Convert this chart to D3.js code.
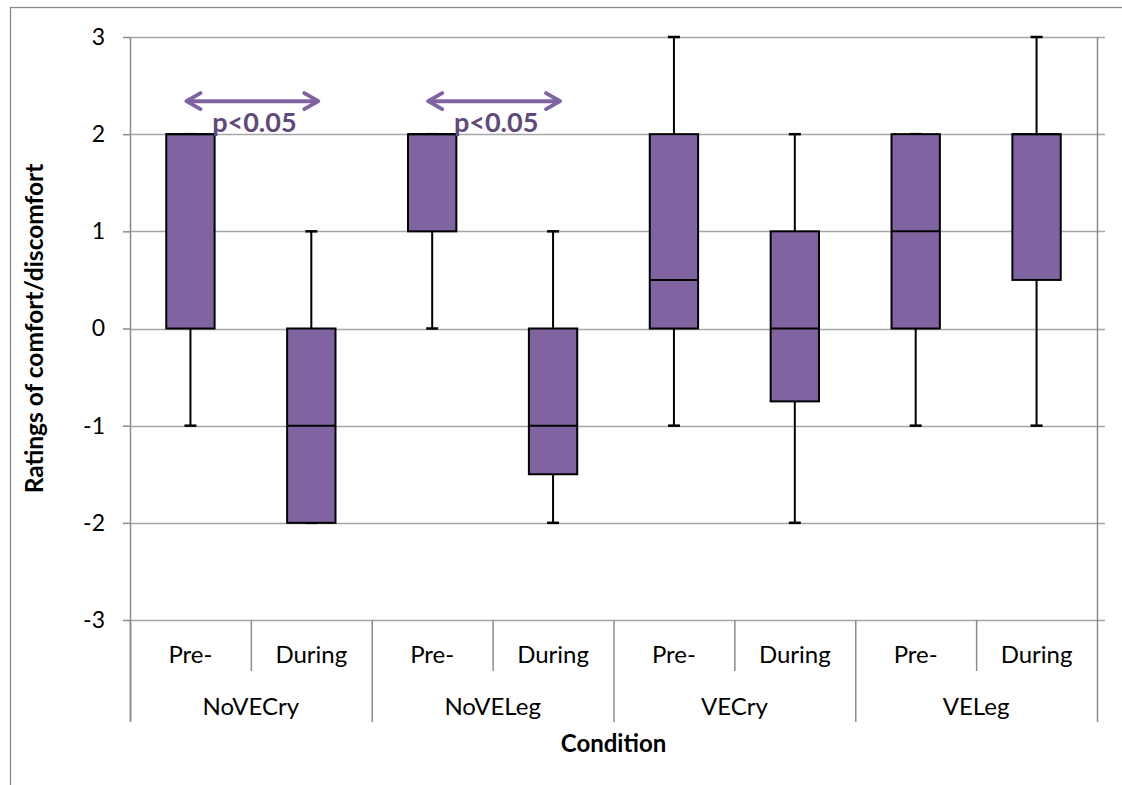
<!DOCTYPE html>
<html>
<head>
<meta charset="utf-8">
<script src="https://cdn.jsdelivr.net/npm/d3@7"></script>
<style>
  body { margin: 0; background: #fff; }
  text { font-family: Lato, "Open Sans", sans-serif; fill: #000; }
</style>
</head>
<body>
<div id="chart"></div>
<script>

// Data
var groups = ["NoVECry", "NoVELeg", "VECry", "VELeg"];
var phases = ["Pre-", "During"];

var whiskerLow  = [-1, -2, 0, -2, -1, -2, -1, -1];
var quartile1   = [0, -2, 1, -1.5, 0, -0.75, 0, 0.5];
var medians     = [2, -1, 2, -1, 0.5, 0, 1, 2];
var quartile3   = [2, 0, 2, 0, 2, 1, 2, 2];
var whiskerHigh = [2, 1, 2, 1, 3, 2, 2, 3];

var yTicks = [-3, -2, -1, 0, 1, 2, 3];
var yTickLabels = ["-3", "-2", "-1", "0", "1", "2", "3"];

// significance annotations: [from box, to box, label]
var sigFrom = [0, 2];
var sigTo = [1, 3];
var sigLabels = ["p<0.05", "p<0.05"];

var width = 1122,
  height = 785;

var margin = {top: 37, right: 25, bottom: 165, left: 130};

var chartW = width - margin.left - margin.right;
var chartH = height - margin.top - margin.bottom;

var boxColor = "#8064a2",
  gridColor = "#a6a6a6",
  axisColor = "#8c8c8c",
  sigColor = "#8064a2",
  sigTextColor = "#604a7b";

// one entry per box
var boxes = [];
groups.forEach(function(g, gi) {
  phases.forEach(function(p, pi) {
    var i = gi * phases.length + pi;
    boxes.push({
      key: g + "|" + p,
      group: g,
      phase: p,
      lo: whiskerLow[i],
      q1: quartile1[i],
      med: medians[i],
      q3: quartile3[i],
      hi: whiskerHigh[i]
    });
  });
});

var xScale = d3.scaleBand()
  .domain(boxes.map(function(d) { return d.key; }))
  .range([0, chartW])
  .padding(0);

var groupScale = d3.scaleBand()
  .domain(groups)
  .range([0, chartW])
  .padding(0);

var yScale = d3.scaleLinear()
  .domain([-3, 3])
  .range([chartH, 0]);

var boxW = xScale.bandwidth() * 0.4;
var capW = 12;

var svg = d3.select("#chart").append("svg")
  .attr("width", width)
  .attr("height", height);

// outer chart frame
svg.append("rect")
  .attr("x", 10.5)
  .attr("y", 7.5)
  .attr("width", width)
  .attr("height", height)
  .attr("fill", "none")
  .attr("stroke", "#898989")
  .attr("stroke-width", 1.3);

var container = svg.append("g")
  .attr("transform", "translate(" + margin.left + "," + margin.top + ")");

// horizontal gridlines (extend a little past the right border)
container.append("g")
  .attr("class", "grid")
  .selectAll("line")
  .data(yTicks)
  .enter().append("line")
  .attr("x1", 0)
  .attr("x2", chartW + 8)
  .attr("y1", function(d) { return Math.round(yScale(d)) + 0.5; })
  .attr("y2", function(d) { return Math.round(yScale(d)) + 0.5; })
  .attr("stroke", gridColor)
  .attr("stroke-width", 1.5);

// y axis
var yAxis = d3.axisLeft(yScale)
  .tickValues(yTicks)
  .tickSize(7)
  .tickPadding(18)
  .tickFormat(function(d, i) { return yTickLabels[i]; });

var yG = container.append("g")
  .attr("class", "y axis")
  .call(yAxis);

yG.select(".domain").remove();
yG.selectAll("line").attr("stroke", axisColor).attr("stroke-width", 1.5);
yG.selectAll("text")
  .style("font-size", "23px")
  .style("font-family", "Lato, sans-serif")
  .attr("fill", "#000");

// left axis line and right border, both reach down through the category labels
var axisBottom = chartH + 102;
[0, chartW].forEach(function(x) {
  container.append("line")
    .attr("x1", x + 0.5).attr("x2", x + 0.5)
    .attr("y1", 0).attr("y2", axisBottom)
    .attr("stroke", axisColor)
    .attr("stroke-width", 1.5);
});

// category separators
var sepG = container.append("g").attr("class", "x axis");

groups.forEach(function(g) {
  var x0 = groupScale(g);
  // inner separator between Pre- and During
  var mid = xScale(g + "|" + phases[1]);
  sepG.append("line")
    .attr("x1", mid + 0.5).attr("x2", mid + 0.5)
    .attr("y1", chartH).attr("y2", chartH + 51)
    .attr("stroke", axisColor).attr("stroke-width", 1.5);
  // group separator
  sepG.append("line")
    .attr("x1", x0 + 0.5).attr("x2", x0 + 0.5)
    .attr("y1", chartH).attr("y2", axisBottom)
    .attr("stroke", axisColor).attr("stroke-width", 1.5);
});

// phase labels
sepG.selectAll(".phase")
  .data(boxes)
  .enter().append("text")
  .attr("class", "phase")
  .attr("x", function(d) { return xScale(d.key) + xScale.bandwidth() / 2; })
  .attr("y", chartH + 43)
  .attr("text-anchor", "middle")
  .style("font-size", "24px")
  .text(function(d) { return d.phase; });

// group labels
sepG.selectAll(".group")
  .data(groups)
  .enter().append("text")
  .attr("class", "group")
  .attr("x", function(d) { return groupScale(d) + groupScale.bandwidth() / 2; })
  .attr("y", chartH + 95)
  .attr("text-anchor", "middle")
  .style("font-size", "24px")
  .text(function(d) { return d; });

// axis titles
container.append("text")
  .attr("x", chartW / 2)
  .attr("y", chartH + 132)
  .attr("text-anchor", "middle")
  .style("font-size", "24px")
  .style("font-weight", "bold")
  .text("Condition");

svg.append("text")
  .attr("transform", "translate(43," + (margin.top + chartH / 2) + ") rotate(-90)")
  .attr("text-anchor", "middle")
  .style("font-size", "24.5px")
  .style("font-weight", "bold")
  .text("Ratings of comfort/discomfort");

// boxes
var boxG = container.append("g").attr("class", "boxes")
  .selectAll(".box")
  .data(boxes)
  .enter().append("g")
  .attr("class", "box")
  .attr("transform", function(d) {
    return "translate(" + (xScale(d.key) + xScale.bandwidth() / 2) + ",0)";
  });

// whiskers
boxG.append("line")
  .attr("x1", 0).attr("x2", 0)
  .attr("y1", function(d) { return yScale(d.lo); })
  .attr("y2", function(d) { return yScale(d.hi); })
  .attr("stroke", "#000").attr("stroke-width", 2);

boxG.selectAll(".cap")
  .data(function(d) { return [d.lo, d.hi]; })
  .enter().append("line")
  .attr("class", "cap")
  .attr("x1", -capW / 2).attr("x2", capW / 2)
  .attr("y1", function(v) { return yScale(v); })
  .attr("y2", function(v) { return yScale(v); })
  .attr("stroke", "#000").attr("stroke-width", 2.5);

boxG.append("rect")
  .attr("x", -boxW / 2)
  .attr("width", boxW)
  .attr("y", function(d) { return yScale(d.q3); })
  .attr("height", function(d) { return yScale(d.q1) - yScale(d.q3); })
  .attr("fill", boxColor)
  .attr("stroke", "#000")
  .attr("stroke-width", 2);

boxG.append("line")
  .attr("x1", -boxW / 2).attr("x2", boxW / 2)
  .attr("y1", function(d) { return yScale(d.med); })
  .attr("y2", function(d) { return yScale(d.med); })
  .attr("stroke", "#000").attr("stroke-width", 2);

// significance arrows
var arrowY = yScale(2.34);
var sigG = container.append("g").attr("class", "sig");

sigFrom.forEach(function(f, i) {
  var x1 = xScale(boxes[f].key) + xScale.bandwidth() / 2 - 4;
  var x2 = xScale(boxes[sigTo[i]].key) + xScale.bandwidth() / 2 + 7;
  var head = 14, headH = 8;

  sigG.append("line")
    .attr("x1", x1 + 1).attr("x2", x2 - 1)
    .attr("y1", arrowY).attr("y2", arrowY)
    .attr("stroke", sigColor).attr("stroke-width", 4);

  sigG.append("path")
    .attr("d", "M" + (x1 + head) + "," + (arrowY - headH) + "L" + x1 + "," + arrowY +
      "L" + (x1 + head) + "," + (arrowY + headH))
    .attr("fill", "none").attr("stroke", sigColor).attr("stroke-width", 4)
    .attr("stroke-linecap", "round").attr("stroke-linejoin", "round");

  sigG.append("path")
    .attr("d", "M" + (x2 - head) + "," + (arrowY - headH) + "L" + x2 + "," + arrowY +
      "L" + (x2 - head) + "," + (arrowY + headH))
    .attr("fill", "none").attr("stroke", sigColor).attr("stroke-width", 4)
    .attr("stroke-linecap", "round").attr("stroke-linejoin", "round");

  sigG.append("text")
    .attr("x", (x1 + x2) / 2 + 2)
    .attr("y", yScale(2.02))
    .attr("text-anchor", "middle")
    .style("font-size", "27px")
    .style("font-weight", "bold")
    .style("fill", sigTextColor)
    .text(sigLabels[i]);
});

</script>
</body>
</html>
